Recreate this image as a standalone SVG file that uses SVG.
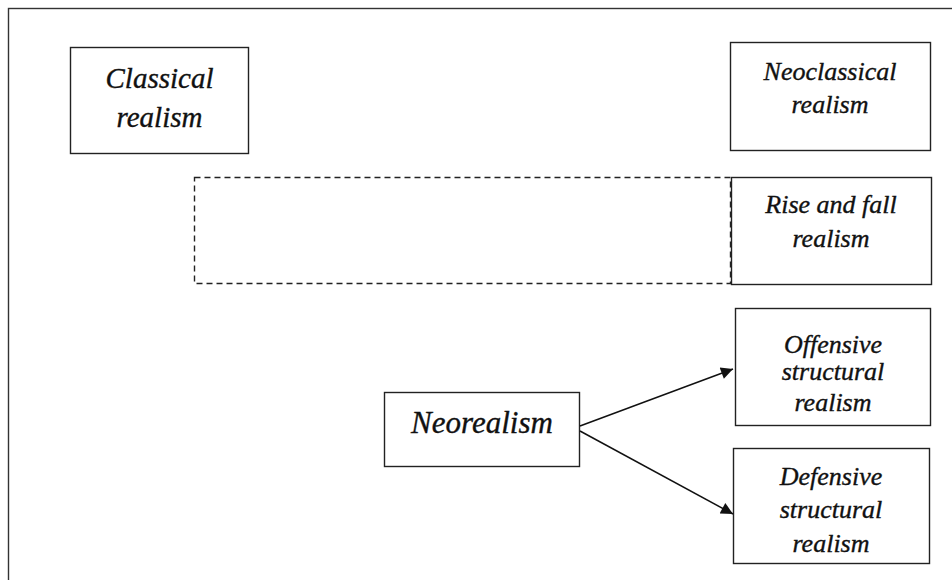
<svg xmlns="http://www.w3.org/2000/svg" width="952" height="580" viewBox="0 0 952 580">
<defs>
<style>
.box{fill:#fff;stroke:#222;stroke-width:1.4}
.dash{fill:none;stroke:#222;stroke-width:1.4;stroke-dasharray:6,4}
.t{font-family:"Liberation Serif","Times New Roman",serif;font-style:italic;font-size:26px;fill:#111;stroke:#111;stroke-width:0.35;text-anchor:middle}
.big{font-size:29px}
.huge{font-size:31px}
.edge{stroke:#111;stroke-width:1.5;fill:none;marker-end:url(#ah)}
</style>
<marker id="ah" viewBox="0 0 10 10" refX="10" refY="5" markerWidth="14" markerHeight="12" markerUnits="userSpaceOnUse" orient="auto">
<path d="M0,0 L10,5 L0,10 z" fill="#111"/>
</marker>
</defs>
<rect x="0" y="0" width="952" height="580" fill="#fff"/>
<rect x="8.5" y="8.5" width="960" height="600" fill="none" stroke="#333" stroke-width="1.4"/>
<g id="dashed-region"><rect class="dash" x="194.5" y="177.5" width="536" height="106"/></g>
<g id="classical"><rect class="box" x="70.5" y="47.5" width="178" height="106"/><text class="t big" x="159.5" y="88">Classical</text><text class="t big" x="159.5" y="127">realism</text></g>
<g id="neoclassical"><rect class="box" x="730.5" y="42.5" width="200" height="108"/><text class="t" x="830" y="80">Neoclassical</text><text class="t" x="830" y="113">realism</text></g>
<g id="risefall"><rect class="box" x="731.5" y="177.5" width="200" height="107"/><text class="t" x="831" y="213">Rise and fall</text><text class="t" x="831" y="247">realism</text></g>
<g id="neorealism"><rect class="box" x="384.5" y="392.5" width="195" height="74"/><text class="t huge" x="482" y="433">Neorealism</text></g>
<g id="offensive"><rect class="box" x="735.5" y="308.5" width="195" height="117"/><text class="t" x="833" y="353">Offensive</text><text class="t" x="833" y="380">structural</text><text class="t" x="833" y="411">realism</text></g>
<g id="defensive"><rect class="box" x="733.5" y="448.5" width="196" height="115"/><text class="t" x="831" y="485">Defensive</text><text class="t" x="831" y="518">structural</text><text class="t" x="831" y="552">realism</text></g>
<g id="connectors">
<line class="edge" x1="580" y1="426" x2="733" y2="369"/>
<line class="edge" x1="580" y1="431" x2="733" y2="514"/>
</g>
</svg>
